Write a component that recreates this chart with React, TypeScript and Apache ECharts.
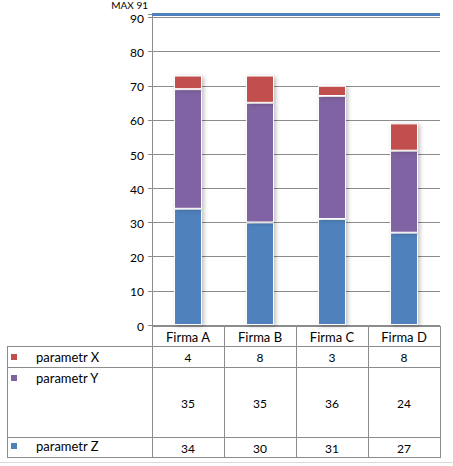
import React, { useEffect, useRef } from "react";
import * as echarts from "echarts";

const categories = ["Firma A", "Firma B", "Firma C", "Firma D"];
const paramZ = [34, 30, 31, 27];
const paramY = [35, 35, 36, 24];
const paramX = [4, 8, 3, 8];
const maxValue = 91;
const maxLabel = "MAX 91";

const colorX = "#c0504d";
const colorY = "#8064a2";
const colorZ = "#4f81bd";
const lineGray = "#8c8c8c";
const font = "Lato, 'Noto Sans', sans-serif";

// plot box in page pixels
const gridLeft = 152;
const gridWidth = 288;
const gridTop = 14;
const gridBottomY = 325;

const App: React.FC = () => {
  const chartRef = useRef<HTMLDivElement>(null);

  useEffect(() => {
    document.body.style.margin = "0";
    if (!chartRef.current) return;
    const chart = echarts.init(chartRef.current, null, { renderer: "svg" });

    const colW = gridWidth / categories.length;
    const tableRight = gridLeft + gridWidth;
    const rows = [
      { name: "parametr X", color: colorX, values: paramX, top: 346, bottom: 367, labelY: 357 },
      { name: "parametr Y", color: colorY, values: paramY, top: 367, bottom: 437, labelY: 378 },
      { name: "parametr Z", color: colorZ, values: paramZ, top: 437, bottom: 457, labelY: 446 },
    ];

    const graphics: any[] = [];
    const hLine = (x1: number, x2: number, y: number) =>
      graphics.push({
        type: "line",
        shape: { x1, y1: y, x2, y2: y },
        style: { stroke: lineGray, lineWidth: 1 },
      });
    const vLine = (x: number, y1: number, y2: number) =>
      graphics.push({
        type: "line",
        shape: { x1: x, y1, x2: x, y2 },
        style: { stroke: lineGray, lineWidth: 1 },
      });

    hLine(gridLeft, tableRight, 326.5);
    hLine(7, tableRight, 346.5);
    hLine(7, tableRight, 367.5);
    hLine(7, tableRight, 437.5);
    hLine(7, tableRight, 457.5);
    vLine(7.5, 346, 458);
    for (let i = 0; i <= categories.length; i++) {
      vLine(gridLeft + i * colW + 0.5, 326, 458);
    }
    // faint sheet border at the bottom
    graphics.push({
      type: "line",
      shape: { x1: 0, y1: 462.5, x2: 453, y2: 462.5 },
      style: { stroke: "#d9d9d9", lineWidth: 1 },
    });

    categories.forEach((c, i) => {
      graphics.push({
        type: "text",
        x: gridLeft + (i + 0.5) * colW,
        y: 336.5,
        style: {
          text: c,
          fill: "#000",
          font: `13px ${font}`,
          align: "center",
          verticalAlign: "middle",
        },
      });
    });

    rows.forEach((r) => {
      graphics.push({
        type: "rect",
        shape: { x: 11, y: r.labelY - 3, width: 6, height: 6 },
        style: { fill: r.color },
      });
      graphics.push({
        type: "text",
        x: 36,
        y: r.labelY,
        style: {
          text: r.name,
          fill: "#000",
          font: `13px ${font}`,
          align: "left",
          verticalAlign: "middle",
        },
      });
      r.values.forEach((v, i) => {
        graphics.push({
          type: "text",
          x: gridLeft + (i + 0.5) * colW,
          y: (r.top + r.bottom) / 2 + 1,
          style: {
            text: String(v),
            fill: "#000",
            font: `12px ${font}`,
            align: "center",
            verticalAlign: "middle",
          },
        });
      });
    });

    const barStyle = (color: string) => ({
      color,
      borderColor: "#ffffff",
      borderWidth: 1,
      shadowBlur: 4,
      shadowColor: "rgba(0,0,0,0.25)",
      shadowOffsetX: 2,
      shadowOffsetY: 1,
    });

    const option = {
      animation: false,
      grid: {
        left: gridLeft,
        width: gridWidth,
        top: gridTop,
        bottom: 466 - gridBottomY,
      },
      xAxis: {
        type: "category",
        data: categories,
        axisLabel: { show: false },
        axisTick: { show: false },
        axisLine: { show: false },
      },
      yAxis: {
        type: "value",
        min: 0,
        max: maxValue,
        interval: 10,
        axisLine: { show: true, lineStyle: { color: lineGray, width: 1 } },
        axisTick: { show: true, inside: false, length: 4, lineStyle: { color: lineGray } },
        axisLabel: {
          color: "#000",
          fontSize: 12,
          fontFamily: font,
          margin: 8,
          verticalAlign: "top",
          padding: [-5, 0, 0, 0],
          formatter: (v: number) => (v > 90 ? "" : String(v)),
        },
        splitLine: { show: true, lineStyle: { color: lineGray, width: 1 } },
      },
      series: [
        {
          name: "parametr Z",
          type: "bar",
          stack: "total",
          data: paramZ,
          barWidth: 28,
          itemStyle: barStyle(colorZ),
        },
        {
          name: "parametr Y",
          type: "bar",
          stack: "total",
          data: paramY,
          barWidth: 28,
          itemStyle: barStyle(colorY),
        },
        {
          name: "parametr X",
          type: "bar",
          stack: "total",
          data: paramX,
          barWidth: 28,
          itemStyle: barStyle(colorX),
          markLine: {
            silent: true,
            symbol: "none",
            data: [{ yAxis: maxValue }],
            lineStyle: { color: colorZ, width: 3, type: "solid" },
            label: {
              show: true,
              position: "start",
              formatter: maxLabel,
              color: "#000",
              fontSize: 10,
              fontFamily: font,
              distance: 4,
              offset: [0, -9],
            },
          },
        },
      ],
      graphic: graphics,
    };

    chart.setOption(option);
    return () => chart.dispose();
  }, []);

  return <div ref={chartRef} style={{ width: 453, height: 466 }} />;
};

export default App;
